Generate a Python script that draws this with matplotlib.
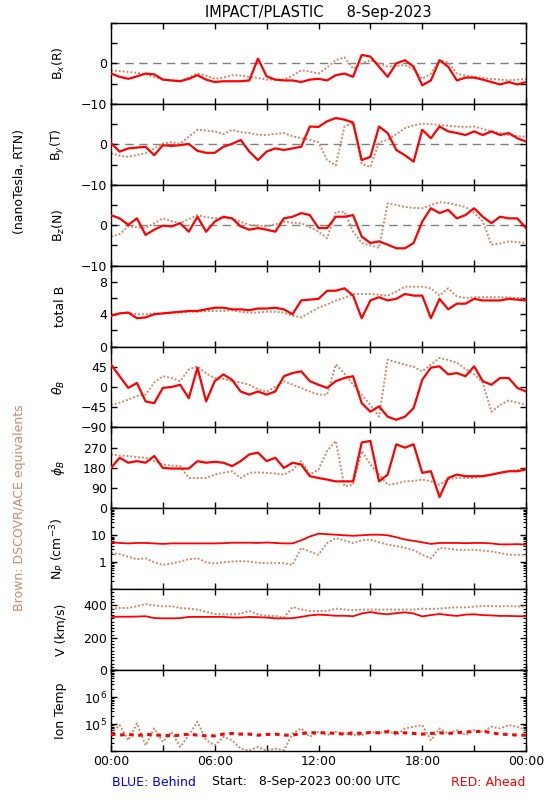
import numpy as np
import matplotlib
matplotlib.use("Agg")
import matplotlib.pyplot as plt
from matplotlib.ticker import NullFormatter, FixedLocator, LogLocator

# ---------------- data (half-hour samples, hours since 00:00) ----------------
t = [i * 0.5 for i in range(49)]

bx_red = [-2.5, -3.3, -3.8, -3.2, -2.5, -2.7, -4.0, -4.2, -4.4, -3.8, -2.9, -4.0, -4.6, -4.4, -4.4, -4.4,
          -4.2, 1.2, -3.2, -4.0, -4.2, -4.2, -4.6, -4.0, -3.8, -4.2, -2.9, -2.5, -3.3, 2.1, 1.7, -0.8,
          -3.3, 0.0, 0.8, -0.8, -5.4, -4.2, 0.8, -0.8, -4.2, -3.5, -3.5, -4.0, -4.6, -5.2, -4.6, -5.2, -4.6]
bx_brn = [-1.7, -1.9, -2.1, -2.3, -2.7, -3.3, -4.0, -4.2, -4.3, -3.5, -2.5, -3.0, -3.8, -3.5, -2.9, -3.0,
          -3.3, -3.6, -4.0, -4.0, -4.0, -3.0, -1.7, -2.0, -2.5, -1.0, 0.8, 1.5, -1.3, 0.0, 0.8, 0.0,
          -0.8, -0.6, -0.4, -1.5, -3.8, -2.5, 0.8, 0.3, -2.5, -3.0, -3.3, -3.6, -3.8, -4.0, -4.2, -4.0, -3.8]

by_red = [0.3, -1.8, -1.0, -0.8, -0.6, -2.7, -0.2, -0.4, -0.2, 0.1, -1.6, -2.1, -2.1, -0.6, 0.1, 1.1,
          -1.8, -3.9, -1.8, -1.0, -1.4, -1.0, -0.6, 4.4, 4.3, 5.7, 6.5, 6.1, 5.4, -3.9, -3.1, 4.4,
          2.8, -1.4, -2.7, -4.3, 3.6, 1.5, 4.4, 3.2, 2.8, 2.3, 3.2, 2.3, 3.2, 2.3, 2.8, 1.5, 0.7]
by_brn = [-2.2, -2.8, -3.1, -2.6, -2.2, -1.0, 0.2, 0.5, 0.2, 1.9, 3.6, 3.4, 3.2, 2.5, 3.6, 3.0,
          2.8, 2.4, 2.3, 2.6, 2.8, 2.0, 1.5, 1.1, 0.5, -3.9, -5.2, 4.4, 5.3, -4.8, -5.6, 0.5,
          1.1, 2.5, 4.0, 4.7, 5.1, 5.0, 4.8, 4.6, 4.4, 4.3, 4.4, 3.8, 3.2, 2.8, 2.3, 2.0, 1.9]

bz_red = [2.5, 1.7, 0.1, 1.7, -2.4, -1.1, -0.1, -0.3, 0.5, -1.6, 2.1, -1.6, 0.9, 2.1, 1.7, -0.3,
          -1.1, -0.7, -1.1, -1.6, 1.7, 2.1, 3.0, 2.5, -0.7, -0.7, 2.1, 2.1, 2.5, -2.8, -4.4, -4.0,
          -4.8, -5.7, -5.7, -4.4, 0.9, 4.2, 3.0, 3.8, 1.7, 2.5, 4.2, 2.1, 0.5, 2.1, 1.7, 1.7, -0.7]
bz_brn = [-2.8, -2.2, -0.3, -0.5, -0.7, 0.5, 1.7, 1.0, 0.5, 1.5, 2.5, 2.0, 1.7, 1.8, 1.7, 0.8,
          0.1, -0.1, -0.3, 0.2, 0.9, 0.6, 0.5, -0.5, -1.6, -3.2, 3.3, 3.3, -1.6, -4.4, -5.0, -5.6,
          5.4, 5.0, 4.5, 4.3, 4.2, 5.0, 5.7, 5.5, 5.0, 4.5, 3.0, 1.0, -4.8, -4.5, -4.0, -4.2, -4.4]

bt_red = [3.8, 4.1, 4.2, 3.5, 3.6, 4.0, 4.1, 4.2, 4.3, 4.4, 4.4, 4.6, 4.8, 4.8, 4.6, 4.6,
          4.5, 4.7, 4.7, 4.8, 4.6, 4.0, 5.7, 5.8, 5.9, 6.9, 6.9, 7.2, 6.3, 3.5, 5.7, 6.1,
          5.7, 5.9, 6.5, 6.3, 6.3, 3.5, 5.9, 4.6, 5.3, 5.3, 5.9, 5.7, 5.7, 5.7, 5.9, 5.8, 5.7]
bt_brn = [4.0, 4.1, 4.2, 4.0, 4.0, 4.1, 4.1, 4.2, 4.2, 4.3, 4.3, 4.4, 4.4, 4.4, 4.5, 4.3,
          4.2, 4.2, 4.3, 4.3, 4.2, 3.8, 3.6, 4.2, 4.8, 5.2, 5.7, 6.0, 6.5, 6.5, 6.5, 6.4,
          6.3, 6.8, 7.4, 7.4, 7.4, 7.2, 6.3, 7.2, 6.2, 6.0, 6.1, 6.1, 6.1, 6.1, 6.1, 6.0, 5.9]

th_red = [50, 24, -2, 9, -32, -36, -2, 0, 5, -25, 43, -32, 13, 28, 16, -10,
          -17, -10, -17, -10, 24, 31, 35, 13, 5, -2, 13, 20, 24, -36, -55, -43,
          -66, -73, -66, -47, 16, 43, 46, 28, 31, 24, 46, 13, 5, 20, 20, -2, -10]
th_brn = [-40, -35, -28, -20, -17, 10, 24, 20, 13, 39, 46, 30, 20, 18, 13, 10,
          5, -5, -10, 0, 13, 5, -2, -10, -17, -17, 50, 30, 5, -17, -40, -66,
          61, 55, 50, 45, 35, 50, 65, 60, 54, 40, 28, 10, -55, -40, -30, -35, -40]

ph_red = [180, 225, 203, 210, 203, 233, 180, 177, 177, 177, 210, 203, 207, 203, 188, 210,
          240, 248, 210, 225, 180, 203, 195, 143, 135, 128, 120, 120, 120, 293, 300, 120,
          150, 285, 270, 285, 158, 165, 50, 135, 150, 143, 143, 143, 150, 158, 165, 165, 173]
ph_brn = [240, 235, 233, 228, 225, 210, 195, 190, 188, 135, 135, 135, 150, 158, 165, 135,
          158, 160, 158, 155, 150, 170, 210, 150, 173, 255, 300, 98, 105, 255, 195, 150,
          105, 110, 120, 122, 128, 120, 105, 130, 135, 135, 135, 145, 150, 160, 165, 170, 173]

np_red = [5.5, 5.2, 5.0, 5.2, 5.2, 5.0, 4.8, 5.0, 5.0, 5.0, 5.0, 5.0, 5.0, 5.1, 5.3, 5.3,
          5.3, 5.2, 5.4, 5.2, 5.0, 5.0, 6.5, 9.0, 11.5, 11.0, 10.5, 10.0, 9.6, 10.0, 10.5, 10.5,
          10.0, 8.5, 7.0, 6.2, 5.5, 4.8, 5.2, 5.2, 5.2, 5.1, 5.2, 5.2, 5.0, 4.6, 4.6, 4.7, 4.5]
np_brn = [2.2, 2.0, 1.6, 1.3, 1.4, 1.0, 0.8, 0.9, 1.06, 1.3, 1.4, 1.0, 0.9, 1.0, 1.06, 1.1,
          1.06, 0.95, 0.92, 0.95, 0.92, 0.8, 3.4, 2.5, 1.9, 5.2, 7.9, 6.5, 5.2, 6.5, 6.9, 5.5,
          4.5, 4.0, 3.4, 2.8, 1.9, 1.4, 3.4, 3.2, 2.9, 2.9, 2.9, 2.7, 2.5, 2.2, 1.9, 1.9, 1.9]

v_red = [329, 330, 330, 331, 333, 322, 320, 320, 321, 329, 329, 329, 329, 329, 325, 325,
         329, 327, 325, 320, 320, 321, 329, 338, 343, 340, 336, 336, 333, 350, 359, 350,
         345, 352, 357, 350, 332, 340, 347, 340, 335, 343, 345, 340, 338, 335, 335, 333, 333]
v_brn = [380, 384, 384, 395, 408, 400, 394, 395, 384, 380, 374, 360, 347, 345, 345, 350,
         365, 345, 335, 335, 325, 390, 375, 365, 365, 365, 380, 375, 370, 374, 374, 374,
         374, 374, 374, 374, 380, 378, 380, 385, 388, 388, 392, 396, 396, 394, 396, 394, 392]

ti_red = [42200, 38700, 42200, 36500, 42200, 38700, 38700, 36500, 38700, 42200, 38700, 36500, 36500,
          42200, 44700, 42200, 42200, 38700, 41000, 42200, 38700, 38700, 44700, 47300, 47300, 47300,
          44700, 42200, 47300, 44700, 48700, 47300, 51600, 47300, 47300, 44700, 42200, 44700, 47300,
          44700, 47300, 51600, 51600, 54600, 47300, 42200, 41000, 38700, 38700]
ti_brn = [44700, 91700, 25100, 106000, 16300, 68800, 21800, 51600, 14100, 38700, 122000, 25100, 16300,
          33500, 25100, 12200, 10600, 14100, 10300, 12200, 10600, 44700, 68800, 33500, 51600, 38700,
          51600, 44700, 38700, 38700, 51600, 44700, 59600, 38700, 68800, 79400, 91700, 25100, 68800,
          44700, 59600, 38700, 59600, 51600, 79400, 68800, 91700, 79400, 59600]

# ---------------- figure ----------------
RED = "#ff0000"
BRN = "#cd8a6a"

fig = plt.figure(figsize=(5.5, 8.0), dpi=100)
left, right = 111 / 550, 526 / 550
top, bottom = 1 - 23 / 800, 1 - 751 / 800
n = 9
h = (top - bottom) / n
axes = [fig.add_axes([left, top - (i + 1) * h, right - left, h]) for i in range(n)]

panels = [
    (bx_brn, bx_red, (-10, 10), [-10, -5, 0, 5, 10], ["\u221210", "", "0", "", ""], "B$_x$(R)", True, False),
    (by_brn, by_red, (-10, 10), [-10, -5, 0, 5, 10], ["\u221210", "", "0", "", ""], "B$_y$(T)", True, False),
    (bz_brn, bz_red, (-10, 10), [-10, -5, 0, 5, 10], ["\u221210", "", "0", "", ""], "B$_z$(N)", True, False),
    (bt_brn, bt_red, (0, 10), [0, 2, 4, 6, 8, 10], ["0", "", "4", "", "8", ""], "total B", False, False),
    (th_brn, th_red, (-90, 90), [-90, -45, 0, 45, 90], ["\u221290", "\u221245", "0", "45", ""], r"$\theta_B$", False, False),
    (ph_brn, ph_red, (0, 360), [0, 90, 180, 270, 360], ["0", "90", "180", "270", ""], r"$\phi_B$", False, False),
    (np_brn, np_red, (0.1, 100), None, None, "N$_P$ (cm$^{-3}$)", False, True),
    (v_brn, v_red, (0, 500), [0, 200, 400], ["0", "200", "400"], "V (km/s)", False, False),
    (ti_brn, ti_red, (1e4, 1e7), None, None, "Ion Temp", False, True),
]

fs = 9
for i, (ax, (brn, red, ylim, yt, ytl, lab, zline, logy)) in enumerate(zip(axes, panels)):
    if logy:
        ax.set_yscale("log")
    if zline:
        ax.axhline(0, color="#808080", lw=1, ls=(0, (6, 4)), zorder=1)
    ax.plot(t, brn, color=BRN, lw=1.4, ls=(0, (1, 1)), zorder=2)
    if i == 8:
        ax.plot(t, red, color=RED, lw=2.2, ls=(0, (1.5, 1.5)), zorder=3)
    elif i in (6, 7):
        ax.plot(t, red, color=RED, lw=1.3, zorder=3)
    else:
        ax.plot(t, red, color=RED, lw=1.6, zorder=3)
    ax.set_xlim(0, 24)
    ax.set_ylim(*ylim)
    ax.set_xticks(np.arange(0, 25, 3))
    if logy:
        ax.yaxis.set_minor_locator(LogLocator(base=10, subs=np.arange(2, 10), numticks=10))
        if i == 6:
            ax.set_yticks([0.1, 1, 10, 100])
            ax.set_yticklabels(["", "1", "10", ""])
        else:
            ax.set_yticks([1e4, 1e5, 1e6, 1e7])
            ax.set_yticklabels(["", "10$^5$", "10$^6$", ""])
        ax.yaxis.set_minor_formatter(NullFormatter())
    else:
        ax.set_yticks(yt)
        ax.set_yticklabels(ytl)
        if i == 7:
            ax.yaxis.set_minor_locator(FixedLocator(np.arange(0, 501, 20)))
    ax.tick_params(axis="both", which="major", direction="in", length=4.5, width=1,
                   top=True, right=True, labelsize=fs, pad=3)
    ax.tick_params(axis="both", which="minor", direction="in", length=2, width=0.8,
                   top=True, right=True)
    if i < n - 1:
        ax.set_xticklabels([])
    else:
        ax.set_xticks([0, 3, 6, 9, 12, 15, 18, 21, 24])
        ax.set_xticklabels(["00:00", "", "06:00", "", "12:00", "", "18:00", "", "00:00"], fontsize=fs)
    ax.set_ylabel(lab, fontsize=fs)
    ax.yaxis.set_label_coords(-0.105, 0.5)
    for s in ax.spines.values():
        s.set_linewidth(1)

fig.text(0.5 * (left + right), 1 - 12 / 800, "IMPACT/PLASTIC     8-Sep-2023",
         ha="center", va="center", fontsize=10.5)
fig.text(20 / 550, 1 - 182 / 800, "(nanoTesla, RTN)", rotation=90, ha="center", va="center", fontsize=fs)
fig.text(20 / 550, 1 - 508 / 800, "Brown: DSCOVR/ACE equivalents", rotation=90, ha="center",
         va="center", fontsize=fs, color=BRN)
fig.text(112 / 550, 1 - 782 / 800, "BLUE: Behind", color="#0000ff", ha="left", va="center", fontsize=fs)
fig.text(212 / 550, 1 - 782 / 800, "Start:   8-Sep-2023 00:00 UTC", color="black", ha="left",
         va="center", fontsize=fs)
fig.text(525 / 550, 1 - 782 / 800, "RED: Ahead", color=RED, ha="right", va="center", fontsize=fs)

fig.savefig("out.png", dpi=100)
